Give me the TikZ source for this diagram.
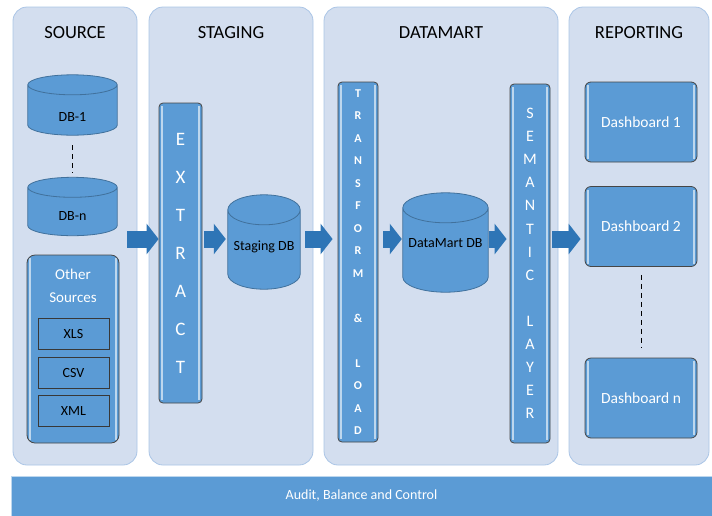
\documentclass[tikz,border=0pt]{standalone}
\usepackage{fontspec}
\setmainfont{Carlito}
\usetikzlibrary{arrows.meta,calc}
\definecolor{panelfill}{RGB}{211,222,239}
\definecolor{paneledge}{RGB}{170,197,230}
\definecolor{boxfill}{RGB}{91,155,213}
\definecolor{boxedge}{RGB}{65,113,156}
\definecolor{arrowblue}{RGB}{46,117,182}
\definecolor{stripe}{RGB}{189,215,238}
\definecolor{darkedge}{RGB}{70,70,70}
\def\edgestripes{\draw[stripe, line width=1.6pt] ([xshift=3pt,yshift=-3pt]path picture bounding box.north west) -- ([xshift=3pt,yshift=3pt]path picture bounding box.south west);
	\draw[stripe, line width=1.6pt] ([xshift=-3pt,yshift=-3pt]path picture bounding box.north east) -- ([xshift=-3pt,yshift=3pt]path picture bounding box.south east);}
% cylinder body drawn over a named box: (node)(ellipse y radius)
\def\dbbody(#1)(#2){\draw[draw=boxedge, fill=boxfill, line width=0.8pt] let \p1=(#1.north west), \p2=(#1.south east), \n1={(\x2-\x1)/2} in
	(\x1,\y1-#2pt) -- (\x1,\y2+#2pt) arc[start angle=180, end angle=360, x radius=\n1, y radius=#2pt] -- (\x2,\y1-#2pt) arc[start angle=0, end angle=180, x radius=\n1, y radius=#2pt] -- cycle
	(\x1,\y1-#2pt) arc[start angle=180, end angle=360, x radius=\n1, y radius=#2pt];}
\tikzset{
	panel/.style={draw=paneledge, fill=panelfill, rounded corners=14pt, line width=0.8pt},
	paneltitle/.style={font=\fontsize{18.5}{20}\selectfont},
	dbbox/.style={inner sep=0pt},
	dbtext/.style={font=\fontsize{14}{16}\selectfont},
	stackbar/.style={draw=darkedge, fill=boxfill, rounded corners=4pt, line width=0.8pt, text=white, align=center, inner sep=0pt, path picture={\edgestripes}},
	dashbox/.style={stackbar, rounded corners=6pt, minimum width=112, minimum height=80, font=\fontsize{15.5}{18}\selectfont},
	filebox/.style={draw=darkedge!80!black, fill=boxfill, line width=0.8pt, minimum width=71, minimum height=31, inner sep=0pt, font=\fontsize{14}{16}\selectfont},
	fat/.style={draw=arrowblue, line width=17pt, -{Triangle[length=12pt, width=30pt]}},
	dots/.style={line width=0.9pt, dash pattern=on 5pt off 4pt}
}
\begin{document}
\begin{tikzpicture}[x=1pt, y=-1pt]
			%%%%% START %%%%%
			\useasboundingbox (0,0) rectangle (712,515);
			
			% columns
			\node[panel, minimum width=124, minimum height=458] (srcpanel) at (75,236) {};
			\node[panel, minimum width=164, minimum height=458] (stgpanel) at (231,236) {};
			\node[panel, minimum width=234, minimum height=458] (dmpanel) at (441,236) {};
			\node[panel, minimum width=140, minimum height=458] (reppanel) at (639,236) {};
			
			\node[paneltitle] (srctitle) at (75,33) {SOURCE};
			\node[paneltitle] (stgtitle) at (231,33) {STAGING};
			\node[paneltitle] (dmtitle) at (441,33) {DATAMART};
			\node[paneltitle] (reptitle) at (639,33) {REPORTING};
			
			% source
			\node[dbbox, minimum width=89, minimum height=60] (db1) at (72.5,105) {};
			\dbbody(db1)(10)
			\node[dbtext] (db1text) at ([yshift=18pt]db1.south) {DB-1};
			\node[dbbox, minimum width=89, minimum height=58] (dbn) at (72.5,206.5) {};
			\dbbody(dbn)(10)
			\node[dbtext] (dbntext) at ([yshift=20pt]dbn.south) {DB-n};
			\draw[dots, shorten <=10pt, shorten >=5pt] (db1.south) -- (dbn.north);
			
			\node[stackbar, rounded corners=8pt, minimum width=92, minimum height=188] (other) at (73,349) {};
			\node[text=white, align=center, font=\fontsize{15}{23}\selectfont] (othertext) at (73,285.5) {Other\\Sources};
			\node[filebox] (xls) at (73.5,334) {XLS};
			\node[filebox] (csv) at (73.5,372.5) {CSV};
			\node[filebox] (xml) at (73.5,410.5) {XML};
			
			% staging
			\node[stackbar, minimum width=43, minimum height=300, font=\fontsize{19}{38}\selectfont] (extract) at (180.5,253) {E\\X\\T\\R\\A\\C\\T};
			\node[dbbox, minimum width=72, minimum height=94] (stgdb) at (264,242) {};
			\dbbody(stgdb)(15)
			\node[dbtext] (stgtext) at ([yshift=42pt]stgdb.south) {Staging DB};
			
			% datamart
			\node[stackbar, minimum width=40, minimum height=360, font=\bfseries\fontsize{12}{22.5}\selectfont] (transform) at (358,262) {T\\R\\A\\N\\S\\F\\O\\R\\M\\\mbox{}\\\&\\\mbox{}\\L\\O\\A\\D};
			\node[dbbox, minimum width=85, minimum height=99] (dmdb) at (445.5,242.5) {};
			\dbbody(dmdb)(15)
			\node[dbtext] (dmtext) at ([yshift=49pt]dmdb.south) {DataMart DB};
			\node[stackbar, minimum width=40, minimum height=359, font=\fontsize{16}{23.1}\selectfont] (semantic) at (530,263.5) {S\\E\\M\\A\\N\\T\\I\\C\\\mbox{}\\L\\A\\Y\\E\\R};
			
			% reporting
			\node[dashbox] (dash1) at (641,122) {Dashboard 1};
			\node[dashbox] (dash2) at (641,226.5) {Dashboard 2};
			\node[dashbox] (dashn) at (641,398) {Dashboard n};
			\draw[dots, shorten <=8pt, shorten >=10pt] (dash2.south) -- (dashn.north);
			
			% flow
			\coordinate (flow) at (127,239);
			\draw[fat] (flow) -- (flow -| extract.west);
			\draw[fat, shorten <=2pt, shorten >=2pt] (extract.east |- flow) -- (flow -| stgdb.west);
			\draw[fat, shorten <=5pt, shorten >=5pt] (stgdb.east |- flow) -- (flow -| transform.west);
			\draw[fat, shorten <=5pt, shorten >=1pt] (transform.east |- flow) -- (flow -| dmdb.west);
			\draw[fat, shorten <=1pt, shorten >=3pt] (dmdb.east |- flow) -- (flow -| semantic.west);
			\draw[fat, shorten <=2pt, shorten >=4pt] (semantic.east |- flow) -- (flow -| dash2.west);
			
			% bottom band
			\node[draw=stripe, fill=boxfill, minimum width=701, minimum height=40, text=white, font=\fontsize{14}{16}\selectfont] (abc) at (361.5,496) {Audit, Balance and Control};
			%%%%% END %%%%%
\end{tikzpicture}
\end{document}
